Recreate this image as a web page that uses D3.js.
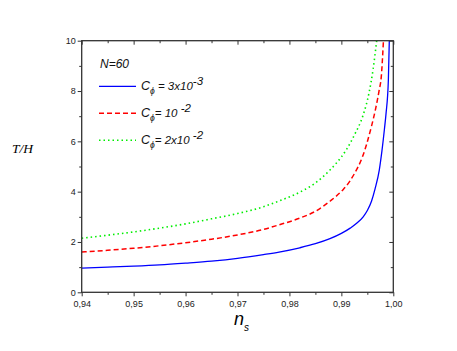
<!DOCTYPE html>
<html>
<head>
<meta charset="utf-8">
<script src="https://cdn.jsdelivr.net/npm/d3@7"></script>
<style>
  body { margin: 0; background: #fff; }
  svg { display: block; }
  .tick text { font-family: "Liberation Sans", Arial, sans-serif; font-size: 9px; fill: #222; }
</style>
</head>
<body>
<svg width="457" height="351"></svg>
<script>
// n_s values and T/H for each C_phi curve
var nsBlue = [0.940, 0.945, 0.950, 0.955, 0.960, 0.965, 0.970, 0.975, 0.978, 0.982, 0.985, 0.9878, 0.990, 0.9917, 0.9930, 0.9942, 0.9950, 0.9958, 0.9965, 0.9973, 0.9978, 0.9983, 0.9986, 0.99905, 0.99923];
var thBlue = [0.96, 1.00, 1.04, 1.09, 1.16, 1.24, 1.35, 1.50, 1.60, 1.77, 1.93, 2.13, 2.34, 2.55, 2.75, 3.00, 3.25, 3.62, 4.12, 4.86, 5.60, 6.50, 7.10, 8.44, 10.0];

var nsRed = [0.940, 0.945, 0.950, 0.955, 0.960, 0.965, 0.970, 0.975, 0.978, 0.982, 0.985, 0.9878, 0.9904, 0.9915, 0.9926, 0.9940, 0.9958, 0.9966, 0.99725, 0.9977, 0.9981];
var thRed = [1.60, 1.67, 1.75, 1.85, 1.97, 2.11, 2.28, 2.50, 2.68, 2.95, 3.22, 3.62, 4.10, 4.38, 4.75, 5.35, 6.60, 7.30, 8.00, 8.60, 10.0];

var nsGreen = [0.940, 0.945, 0.950, 0.955, 0.960, 0.965, 0.970, 0.975, 0.978, 0.982, 0.9849, 0.9878, 0.9891, 0.9910, 0.9925, 0.9942, 0.9953, 0.9961, 0.9968];
var thGreen = [2.15, 2.27, 2.40, 2.55, 2.72, 2.92, 3.13, 3.40, 3.63, 3.98, 4.33, 4.86, 5.15, 5.68, 6.25, 7.05, 7.90, 8.85, 10.0];

var xTicks = [0.94, 0.95, 0.96, 0.97, 0.98, 0.99, 1.00];
var yTicks = [0, 2, 4, 6, 8, 10];

var svg = d3.select("svg");
var pLeft = 81.7, pRight = 393.3, pTop = 40.7, pBottom = 292.3;

var x = d3.scaleLinear().domain([0.94, 1.00]).range([pLeft, pRight]);
var y = d3.scaleLinear().domain([0, 10]).range([pBottom, pTop]);

var fmt = function(d) { return d3.format(".2f")(d).replace(".", ","); };
var xMinor = [0.945, 0.955, 0.965, 0.975, 0.985, 0.995];
var yMinor = [1, 3, 5, 7, 9];

svg.append("defs").append("clipPath").attr("id", "clip")
  .append("rect").attr("x", pLeft).attr("y", pTop).attr("width", pRight - pLeft).attr("height", pBottom - pTop);

// curves
var line = d3.line().x(function(d) { return x(d[0]); }).y(function(d) { return y(d[1]); }).curve(d3.curveMonotoneX);
var series = [
  { ns: nsBlue, th: thBlue, color: "#0000ff", dash: null, w: 1.3 },
  { ns: nsRed, th: thRed, color: "#ff0000", dash: "5,3", w: 1.5 },
  { ns: nsGreen, th: thGreen, color: "#00ee00", dash: "1.5,3", w: 1.6 }
];
var g = svg.append("g").attr("clip-path", "url(#clip)");
series.forEach(function(s) {
  g.append("path")
    .datum(d3.zip(s.ns, s.th))
    .attr("d", line)
    .attr("fill", "none")
    .attr("stroke", s.color)
    .attr("stroke-width", s.w)
    .attr("stroke-dasharray", s.dash);
});

// axes
function styleAxis(sel) {
  sel.select(".domain").remove();
  sel.selectAll(".tick line").attr("stroke", "#333").attr("stroke-width", 1);
}
svg.append("g").attr("transform", "translate(0," + pBottom + ")")
  .call(d3.axisBottom(x).tickValues(xTicks).tickFormat(fmt).tickSize(4).tickPadding(4)).call(styleAxis);
svg.append("g").attr("transform", "translate(0," + pBottom + ")")
  .call(d3.axisBottom(x).tickValues(xMinor).tickFormat("").tickSize(2.5)).call(styleAxis);
svg.append("g").attr("transform", "translate(0," + pTop + ")")
  .call(d3.axisBottom(x).tickValues(xTicks).tickFormat("").tickSize(4)).call(styleAxis);
svg.append("g").attr("transform", "translate(0," + pTop + ")")
  .call(d3.axisBottom(x).tickValues(xMinor).tickFormat("").tickSize(2.5)).call(styleAxis);

svg.append("g").attr("transform", "translate(" + pLeft + ",0)")
  .call(d3.axisLeft(y).tickValues(yTicks).tickSize(4).tickPadding(2)).call(styleAxis);
svg.append("g").attr("transform", "translate(" + pLeft + ",0)")
  .call(d3.axisLeft(y).tickValues(yMinor).tickFormat("").tickSize(2.5)).call(styleAxis);
svg.append("g").attr("transform", "translate(" + pRight + ",0)")
  .call(d3.axisLeft(y).tickValues(yTicks).tickFormat("").tickSize(4)).call(styleAxis);
svg.append("g").attr("transform", "translate(" + pRight + ",0)")
  .call(d3.axisLeft(y).tickValues(yMinor).tickFormat("").tickSize(2.5)).call(styleAxis);

svg.append("rect")
  .attr("x", pLeft).attr("y", pTop).attr("width", pRight - pLeft).attr("height", pBottom - pTop)
  .attr("fill", "none").attr("stroke", "#333").attr("stroke-width", 1.3);

// axis titles
svg.append("text").attr("x", 12).attr("y", 153)
  .attr("font-family", "Liberation Serif, serif").attr("font-style", "italic").attr("font-size", 13.5)
  .text("T/H");
var xt = svg.append("text").attr("x", 234).attr("y", 325)
  .attr("font-family", "Liberation Sans, Arial, sans-serif").attr("font-style", "italic").attr("font-size", 18);
xt.append("tspan").text("n");
xt.append("tspan").attr("font-size", 10).attr("dy", 6).text("s");

// legend
var lf = "Liberation Sans, Arial, sans-serif";
svg.append("text").attr("x", 100).attr("y", 68).attr("font-family", lf).attr("font-style", "italic")
  .attr("font-size", 12).attr("fill", "#111").text("N=60");
var legendLabels = [
  { eq: " = 3x10", sup: "-3" },
  { eq: "= 10 ", sup: "-2" },
  { eq: "= 2x10 ", sup: "-2" }
];
var ly = [86.3, 113.3, 140.3];
series.forEach(function(s, i) {
  svg.append("line").attr("x1", 99).attr("x2", 136).attr("y1", ly[i]).attr("y2", ly[i])
    .attr("stroke", s.color).attr("stroke-width", s.w).attr("stroke-dasharray", s.dash);
  var t = svg.append("text").attr("x", 141).attr("y", ly[i] + 4)
    .attr("font-family", lf).attr("font-style", "italic").attr("font-size", 12.5).attr("fill", "#111");
  t.append("tspan").text("C");
  t.append("tspan").attr("font-size", 8.5).attr("dy", 4).text("\u03d5");
  t.append("tspan").attr("font-size", 11.5).attr("dy", -4).text(legendLabels[i].eq);
  t.append("tspan").attr("font-size", 11.5).attr("dy", -5).text(legendLabels[i].sup);
});
</script>
</body>
</html>
